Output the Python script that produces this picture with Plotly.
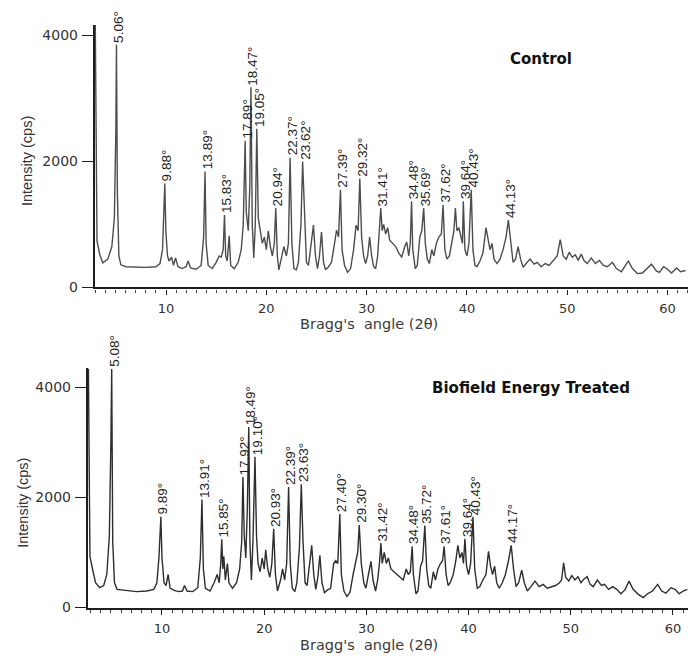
import plotly.graph_objects as go

# ---- Control sample: 2-theta (deg) and intensity (cps) ----
control_2theta = [
    2.95, 3.12, 3.4, 3.7, 4.2, 4.6, 4.85, 5.0, 5.06, 5.15, 5.3, 5.5, 6.0, 7.0, 8.0, 9.0,
    9.4, 9.65, 9.8, 9.88, 9.98, 10.15, 10.3, 10.55, 10.75, 10.95, 11.2, 11.6, 12.0, 12.2,
    12.45, 13.0, 13.5, 13.75, 13.89, 14.0, 14.2, 14.6, 15.0, 15.3, 15.5, 15.7, 15.83, 15.95,
    16.1, 16.3, 16.45, 16.8, 17.2, 17.5, 17.7, 17.89, 18.0, 18.2, 18.35, 18.47, 18.6, 18.75,
    18.9, 19.05, 19.2, 19.4, 19.6, 19.8, 20.0, 20.2, 20.4, 20.6, 20.8, 20.94, 21.1, 21.25,
    21.5, 21.75, 22.0, 22.2, 22.37, 22.55, 22.75, 23.0, 23.2, 23.45, 23.62, 23.8, 24.0, 24.2,
    24.5, 24.7, 24.9, 25.1, 25.3, 25.5, 25.7, 25.9, 26.2, 26.5, 26.8, 27.0, 27.2, 27.39,
    27.55, 27.8, 28.1, 28.4, 28.7, 28.95, 29.15, 29.32, 29.5, 29.7, 29.9, 30.1, 30.3, 30.5,
    30.7, 30.9, 31.1, 31.25, 31.41, 31.55, 31.7, 31.9, 32.1, 32.3, 32.6, 32.9, 33.2, 33.5,
    33.8, 34.0, 34.2, 34.35, 34.48, 34.6, 34.85, 35.05, 35.3, 35.5, 35.69, 35.85, 36.05,
    36.25, 36.5, 36.7, 36.95, 37.2, 37.45, 37.62, 37.8, 38.0, 38.25, 38.5, 38.7, 38.85, 39.0,
    39.2, 39.4, 39.55, 39.64, 39.8, 40.0, 40.2, 40.43, 40.6, 40.8, 41.0, 41.3, 41.6, 41.9,
    42.1, 42.3, 42.5, 42.7, 43.0, 43.3, 43.6, 43.9, 44.13, 44.35, 44.6, 44.85, 45.1, 45.35,
    45.6, 45.9, 46.3, 46.7, 47.0, 47.4, 47.8, 48.2, 48.6, 49.0, 49.3, 49.6, 49.9, 50.2, 50.5,
    50.8, 51.1, 51.4, 51.7, 52.0, 52.4, 52.8, 53.2, 53.6, 54.0, 54.5, 54.9, 55.4, 55.8, 56.1,
    56.5, 57.0, 57.5, 58.0, 58.4, 58.9, 59.2, 59.6, 60.0, 60.4, 60.9, 61.3, 61.8,
]
control_counts = [
    4170, 740, 520, 390, 450, 650, 1100, 2500, 3860, 1500, 500, 360, 330, 320, 320, 330,
    380, 600, 1200, 1650, 900, 500, 420, 480, 350, 470, 330, 300, 330, 420,
    310, 290, 350, 800, 1840, 700, 350, 300, 400, 500, 480, 600, 1150, 500,
    420, 820, 350, 300, 400, 600, 1000, 2330, 1200, 900, 1600, 3180, 1000, 470,
    1000, 2520, 1100, 900, 700, 800, 600, 900, 650, 500, 700, 1260, 500, 280,
    450, 650, 500, 700, 2060, 700, 300, 280, 400, 1000, 2000, 1100, 400, 350,
    700, 990, 500, 300, 500, 880, 400, 280, 330, 400, 700, 910, 800, 1550,
    600, 350, 240, 300, 600, 990, 900, 1730, 800, 500, 380, 500, 800, 500,
    330, 300, 500, 800, 1260, 900, 1000, 850, 950, 750, 700, 650, 550, 480,
    650, 720, 500, 700, 1370, 600, 300, 350, 800, 900, 1260, 700, 450,
    380, 600, 500, 700, 800, 850, 1310, 600, 450, 500, 750, 900, 1260, 900,
    950, 800, 700, 1370, 600, 500, 700, 1550, 600, 350, 330, 420, 550, 950,
    750, 600, 700, 450, 380, 450, 600, 800, 1070, 700, 400, 450, 650, 450,
    320, 380, 450, 370, 400, 330, 380, 350, 430, 500, 760, 500, 450, 560, 480,
    520, 430, 530, 420, 380, 470, 380, 430, 350, 330, 400, 300, 250, 350, 420,
    300, 220, 230, 300, 370, 260, 240, 330, 290, 230, 310, 250, 270,
]

# ---- Biofield energy treated sample ----
treated_2theta = [
    2.8, 2.95, 3.2, 3.5, 3.9, 4.3, 4.6, 4.85, 5.0, 5.08, 5.18, 5.35, 5.6, 6.5, 7.5, 8.5,
    9.2, 9.5, 9.7, 9.89, 10.0, 10.2, 10.4, 10.6, 10.8, 11.2, 11.6, 12.0, 12.2, 12.45, 13.0,
    13.5, 13.75, 13.91, 14.05, 14.25, 14.7, 15.1, 15.4, 15.6, 15.75, 15.85, 15.95, 16.05,
    16.2, 16.4, 16.55, 16.9, 17.3, 17.6, 17.8, 17.92, 18.05, 18.2, 18.35, 18.49, 18.6, 18.75,
    18.9, 19.1, 19.25, 19.4, 19.6, 19.8, 20.0, 20.15, 20.35, 20.55, 20.75, 20.93, 21.1, 21.3,
    21.6, 21.8, 22.0, 22.2, 22.39, 22.55, 22.75, 23.0, 23.2, 23.45, 23.63, 23.8, 24.0, 24.2,
    24.45, 24.65, 24.85, 25.05, 25.25, 25.45, 25.65, 25.9, 26.2, 26.5, 26.8, 27.0, 27.2, 27.4,
    27.55, 27.8, 28.1, 28.4, 28.7, 29.0, 29.15, 29.3, 29.5, 29.75, 29.95, 30.2, 30.45, 30.65,
    30.9, 31.1, 31.28, 31.42, 31.55, 31.75, 31.95, 32.15, 32.4, 32.7, 33.0, 33.3, 33.6, 33.9,
    34.1, 34.3, 34.48, 34.6, 34.85, 35.05, 35.3, 35.5, 35.72, 35.9, 36.1, 36.3, 36.55, 36.75,
    37.0, 37.25, 37.45, 37.61, 37.8, 38.0, 38.2, 38.5, 38.75, 38.95, 39.15, 39.35, 39.5,
    39.64, 39.8, 40.0, 40.2, 40.43, 40.6, 40.85, 41.1, 41.4, 41.7, 41.95, 42.15, 42.35, 42.55,
    42.75, 43.0, 43.3, 43.6, 43.9, 44.17, 44.4, 44.65, 44.9, 45.2, 45.45, 45.75, 46.1, 46.5,
    46.9, 47.3, 47.7, 48.1, 48.5, 48.9, 49.1, 49.3, 49.5, 49.8, 50.1, 50.4, 50.7, 51.0, 51.3,
    51.6, 51.9, 52.2, 52.6, 53.0, 53.3, 53.7, 54.1, 54.5, 54.9, 55.3, 55.7, 56.1, 56.6, 57.1,
    57.5, 58.0, 58.5, 58.9, 59.3, 59.8, 60.2, 60.6, 61.0, 61.4,
]
treated_counts = [
    4340, 930, 700, 450, 360, 400, 600, 1300, 3000, 4330, 1200, 450, 330, 310, 290, 300,
    330, 450, 900, 1650, 900, 450, 400, 600, 350, 310, 290, 300, 400, 300, 290,
    360, 900, 1960, 700, 350, 300, 450, 600, 450, 800, 1240, 700, 930,
    500, 800, 450, 350, 450, 700, 1200, 2370, 1300, 900, 1800, 3280, 1200, 500,
    1200, 2740, 1300, 800, 650, 900, 700, 1050, 700, 550, 800, 1430, 600, 300,
    500, 700, 500, 800, 2190, 800, 350, 290, 450, 1100, 2240, 1200, 450, 400,
    800, 1130, 600, 330, 550, 950, 450, 270, 320, 350, 800, 850, 800, 1700,
    600, 300, 200, 280, 600, 900, 1000, 1500, 800, 450, 350, 600, 840, 500,
    300, 500, 800, 1170, 800, 1000, 800, 900, 700, 650, 600, 550, 500, 700,
    600, 650, 1110, 600, 250, 300, 750, 850, 1490, 700, 400, 350, 650, 500,
    700, 800, 850, 1110, 600, 400, 450, 600, 850, 1130, 900, 1000, 800,
    1250, 750, 600, 800, 1650, 700, 350, 380, 500, 600, 1020, 750, 600, 750,
    450, 350, 450, 600, 850, 1130, 700, 380, 450, 680, 450, 300, 380, 480,
    380, 420, 350, 380, 400, 450, 500, 810, 550, 480, 580, 500, 560, 450, 520,
    560, 420, 380, 500, 400, 420, 330, 380, 330, 250, 320, 480, 330, 240, 180,
    250, 300, 420, 300, 260, 360, 330, 250, 300, 330,
]

# ---- Labelled reflections (2-theta, deg) ----
control_peaks = [5.06, 9.88, 13.89, 15.83, 17.89, 18.47, 19.05, 20.94, 22.37, 23.62,
                 27.39, 29.32, 31.41, 34.48, 35.69, 37.62, 39.64, 40.43, 44.13]
treated_peaks = [5.08, 9.89, 13.91, 15.85, 17.92, 18.49, 19.10, 20.93, 22.39, 23.63,
                 27.40, 29.30, 31.42, 34.48, 35.72, 37.61, 39.64, 40.43, 44.17]

tick_values_x = [10, 20, 30, 40, 50, 60]
tick_values_y = [0, 2000, 4000]

W, H = 690, 660
WIDE = "DejaVu Sans, Verdana, sans-serif"
ARIAL = "Liberation Sans, Arial, sans-serif"
AXIS = "#1e1e1e"


def px(x):
    return x / W


def py(y):
    return 1 - y / H


fig = go.Figure()
fig.add_trace(go.Scatter(x=control_2theta, y=control_counts, xaxis="x", yaxis="y",
                         mode="lines", line=dict(color="#4d4d4d", width=1.4),
                         hoverinfo="skip"))
fig.add_trace(go.Scatter(x=treated_2theta, y=treated_counts, xaxis="x2", yaxis="y2",
                         mode="lines", line=dict(color="#2e2e2e", width=1.4),
                         hoverinfo="skip"))


def xaxis_style(domain, rng, anchor):
    return dict(domain=domain, range=rng, anchor=anchor, showline=True,
                linecolor=AXIS, linewidth=2.2, showgrid=False, zeroline=False,
                ticks="outside", tickvals=tick_values_x, ticklen=5, tickwidth=1.4,
                tickcolor=AXIS, ticklabelstandoff=3,
                tickfont=dict(family=WIDE, size=13, color="#333333"),
                minor=dict(dtick=1, tick0=0, ticks="outside", ticklen=3,
                           tickwidth=1, tickcolor="#444444"))


def yaxis_style(domain, rng, anchor):
    return dict(domain=domain, range=rng, anchor=anchor, showline=True,
                linecolor=AXIS, linewidth=2.4, showgrid=False, zeroline=False,
                ticks="outside", tickvals=tick_values_y, ticklen=11, tickwidth=1.4,
                tickcolor=AXIS, ticklabelstandoff=1,
                tickfont=dict(family=WIDE, size=14, color="#333333"))


annotations = []


def peak_labels(peaks, angles, counts, xref, yref):
    lookup = dict(zip(angles, counts))
    for a in peaks:
        annotations.append(dict(
            x=a, y=lookup[a], xref=xref, yref=yref, text=f"{a:.2f}°",
            textangle=-90, showarrow=False, xanchor="center", yanchor="bottom",
            xshift=2, yshift=1, borderpad=0,
            font=dict(family=ARIAL, size=13.5, color="#222222")))


peak_labels(control_peaks, control_2theta, control_counts, "x", "y")
peak_labels(treated_peaks, treated_2theta, treated_counts, "x2", "y2")


def paper_text(text, x, y, size, family, color, angle=0, bold=False):
    annotations.append(dict(
        x=px(x), y=py(y), xref="paper", yref="paper",
        text=f"<b>{text}</b>" if bold else text, textangle=angle,
        showarrow=False, xanchor="center", yanchor="middle", borderpad=0,
        font=dict(family=family, size=size, color=color)))


paper_text("Control", 541, 60, 15, WIDE, "#111111", bold=True)
paper_text("Biofield Energy Treated", 531, 393, 15, WIDE, "#111111", bold=True)
paper_text("Bragg's\u00a0\u00a0angle (2θ)", 369, 328, 14.5, WIDE, "#3a3a3a")
paper_text("Bragg's\u00a0\u00a0angle (2θ)", 369, 653, 14.5, WIDE, "#3a3a3a")
paper_text("Intensity (cps)", 27, 163, 14.5, ARIAL, "#333333", angle=-90)
paper_text("Intensity (cps)", 23, 509, 14.5, ARIAL, "#333333", angle=-90)

fig.update_layout(
    width=W, height=H, margin=dict(l=0, r=0, t=0, b=0),
    paper_bgcolor="white", plot_bgcolor="white", showlegend=False,
    xaxis=xaxis_style([px(95), px(688)], [2.92, 62.04], "y"),
    yaxis=yaxis_style([py(291), py(25)], [0, 4173], "x"),
    xaxis2=xaxis_style([px(88), px(688)], [2.76, 61.47], "y2"),
    yaxis2=yaxis_style([py(615), py(373)], [0, 4341], "x2"),
    annotations=annotations,
)

fig.write_html("out.html")
